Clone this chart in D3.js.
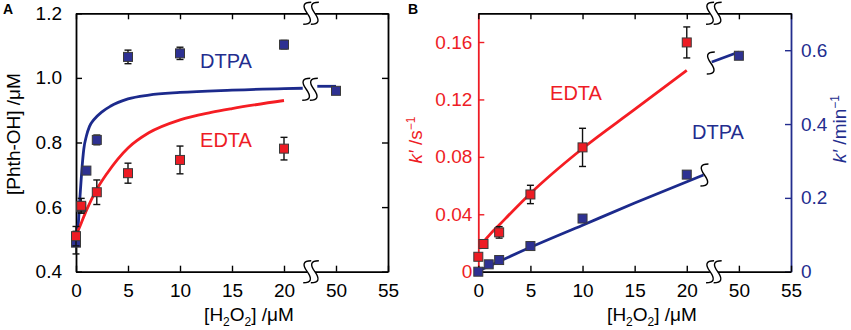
<!DOCTYPE html>
<html><head><meta charset="utf-8">
<script src="https://cdn.jsdelivr.net/npm/d3@7"></script>
<style>
html,body{margin:0;padding:0;background:#fff;}
svg{display:block;font-family:"Liberation Sans",Arial,sans-serif;}
</style></head>
<body><svg id="c" width="851" height="330"></svg>
<script>
// ---------- DATA ----------
const xTickValues = [0, 5, 10, 15, 20, 50, 55];
// Panel A: [Phth-OH] vs [H2O2]
const aDtpaX   = [0, 0.5, 1, 2, 5, 10, 20, 50];
const aDtpaY   = [0.49, 0.60, 0.713, 0.808, 1.065, 1.076, 1.103, 0.96];
const aDtpaErr = [0.035, 0.015, 0.008, 0.015, 0.021, 0.019, 0.013, 0.006];
const aEdtaX   = [0, 0.5, 2, 5, 10, 20];
const aEdtaY   = [0.51, 0.604, 0.646, 0.705, 0.746, 0.781];
const aEdtaErr = [0.03, 0.023, 0.038, 0.031, 0.043, 0.035];
const aDtpaFitX  = [0, 0.2, 0.4, 0.55, 0.75, 1, 1.3, 1.7, 2.5, 3.3, 5, 7, 10, 15, 20, 21.8];
const aDtpaFitY  = [0.50, 0.54, 0.64, 0.71, 0.78, 0.82, 0.85, 0.87, 0.895, 0.912, 0.935, 0.947, 0.955, 0.962, 0.967, 0.968];
const aDtpaFit2X = [48.2, 50];
const aDtpaFit2Y = [0.974, 0.974];
const aEdtaFitX  = [0.05, 0.5, 1, 2, 3, 4, 5, 7, 10, 13, 15, 20];
const aEdtaFitY  = [0.515, 0.55, 0.59, 0.655, 0.705, 0.748, 0.783, 0.83, 0.87, 0.893, 0.905, 0.93];
const aYTicks = [0.4, 0.6, 0.8, 1.0, 1.2];
// Panel B: k' vs [H2O2]
const bEdtaX   = [0, 0.5, 2, 5, 10, 20];
const bEdtaY   = [0.0104, 0.0193, 0.0274, 0.0538, 0.0866, 0.1597];
const bEdtaErr = [0.001, 0.002, 0.004, 0.0064, 0.0133, 0.0108];
const bDtpaX   = [0, 1, 2, 5, 10, 20, 50];
const bDtpaY   = [0.0, 0.02, 0.0316, 0.0695, 0.144, 0.263, 0.585];
const bEdtaFitX  = [0.15, 0.5, 1, 2, 5, 10, 15, 20];
const bEdtaFitY  = [0.016, 0.0205, 0.025, 0.0325, 0.0545, 0.0858, 0.113, 0.1403];
const bDtpaFitX  = [0, 5, 10, 15, 21.6];
const bDtpaFitY  = [0.002, 0.066, 0.126, 0.186, 0.262];
const bDtpaFit2X = [47.4, 50];
const bDtpaFit2Y = [0.568, 0.595];
const bLeftTicks  = [0, 0.04, 0.08, 0.12, 0.16];
const bRightTicks = [0, 0.2, 0.4, 0.6];

// ---------- STYLE ----------
const RED = "#ee1c25", BLUE = "#232d8e", LRED = "#f51d23", LBLUE = "#1c2a8c";
const FS = 19;
const svg = d3.select("#c");
// broken axis: values above the break are shifted down by 25
const brk = v => v > 30 ? v - 25 : v;
const BREAK = 22.6;

function sPath(cx, cy, h, w) {
  return `M${cx + w/2},${cy - h/2} Q${cx - w},${cy - h/2} ${cx},${cy} Q${cx + w},${cy + h/2} ${cx - w/2},${cy + h/2}`;
}
function doubleBreak(g, cx, cy) {
  g.append("rect").attr("x", cx - 4).attr("y", cy - 2).attr("width", 8).attr("height", 4).attr("fill", "#fff");
  [-3.8, 3.8].forEach(o => g.append("path").attr("d", sPath(cx + o, cy, 22, 8))
    .attr("fill", "none").attr("stroke", "#000").attr("stroke-width", 1.4));
}
function singleBreak(g, cx, cy) {
  g.append("path").attr("d", sPath(cx, cy, 22, 8))
    .attr("fill", "none").attr("stroke", "#000").attr("stroke-width", 1.4);
}

function panel(x0, x1, yT, yB) {
  const x = d3.scaleLinear().domain([0, 30]).range([x0, x1]);
  return { x, yT, yB };
}

function xAxes(g, x, yT, yB) {
  const bottom = d3.axisBottom(x).tickValues(xTickValues.map(brk))
    .tickFormat((d, i) => xTickValues[i]).tickSizeInner(-6).tickSizeOuter(0).tickPadding(12);
  const ga = g.append("g").attr("transform", `translate(0,${yB})`).call(bottom);
  ga.select(".domain").attr("stroke-width", 1.8);
  ga.selectAll(".tick line").attr("stroke-width", 1.4);
  ga.selectAll("text").attr("font-size", FS).attr("fill", "#000").attr("font-family", "Liberation Sans, Arial");
  const top = d3.axisTop(x).tickValues(xTickValues.map(brk)).tickFormat("")
    .tickSizeInner(-6).tickSizeOuter(0);
  const gt = g.append("g").attr("transform", `translate(0,${yT})`).call(top);
  gt.select(".domain").attr("stroke-width", 1.8);
  gt.selectAll(".tick line").attr("stroke-width", 1.4);
  doubleBreak(g, x(BREAK), yB);
  doubleBreak(g, x(BREAK), yT);
}

function markers(g, xs, ys, errs, x, y, fill) {
  if (errs) {
    xs.forEach((d, i) => {
      if (!errs[i]) return;
      const cx = x(brk(d)), a = y(ys[i] + errs[i]), b = y(ys[i] - errs[i]);
      g.append("line").attr("x1", cx).attr("x2", cx).attr("y1", a).attr("y2", b).attr("stroke", "#111").attr("stroke-width", 1.4);
      [a, b].forEach(v => g.append("line").attr("x1", cx - 3.5).attr("x2", cx + 3.5).attr("y1", v).attr("y2", v).attr("stroke", "#111").attr("stroke-width", 1.4));
    });
  }
  xs.forEach((d, i) => {
    g.append("rect").attr("x", x(brk(d)) - 4.5).attr("y", y(ys[i]) - 4.5).attr("width", 9).attr("height", 9)
      .attr("fill", fill).attr("stroke", "#3a3a3a").attr("stroke-width", 1);
  });
}

function curve(g, xs, ys, x, y, color) {
  const line = d3.line().x(d => x(brk(d[0]))).y(d => y(d[1])).curve(d3.curveMonotoneX);
  g.append("path").attr("d", line(xs.map((d, i) => [d, ys[i]])))
    .attr("fill", "none").attr("stroke", color).attr("stroke-width", 2.8).attr("stroke-linecap", "butt");
}

// ================= PANEL A =================
{
  const g = svg.append("g");
  const { x, yT, yB } = panel(76, 388, 13.3, 271.7);
  const y = d3.scaleLinear().domain([0.4, 1.2]).range([yB, yT]);
  const left = d3.axisLeft(y).tickValues(aYTicks).tickFormat(d3.format(".1f")).tickSizeInner(-6).tickSizeOuter(0).tickPadding(14);
  const gl = g.append("g").attr("transform", `translate(${x(0)},0)`).call(left);
  gl.select(".domain").attr("stroke-width", 1.8);
  gl.selectAll(".tick line").attr("stroke-width", 1.4);
  gl.selectAll("text").attr("font-size", FS).attr("fill", "#000");
  const right = d3.axisRight(y).tickValues(aYTicks).tickFormat("").tickSizeInner(-6).tickSizeOuter(0);
  const gr = g.append("g").attr("transform", `translate(${x(30)},0)`).call(right);
  gr.select(".domain").attr("stroke-width", 1.8);
  gr.selectAll(".tick line").attr("stroke-width", 1.4);
  xAxes(g, x, yT, yB);

  curve(g, aDtpaFitX, aDtpaFitY, x, y, LBLUE);
  curve(g, aDtpaFit2X, aDtpaFit2Y, x, y, LBLUE);
  curve(g, aEdtaFitX, aEdtaFitY, x, y, LRED);
  // break on the DTPA fit
  const by = y(aDtpaFitY[aDtpaFitY.length - 1]) + 1;
  [-3.8, 3.8].forEach(o => singleBreak(g, x(BREAK) + o - 1, by));

  markers(g, aDtpaX, aDtpaY, aDtpaErr, x, y, "#2e3192");
  markers(g, aEdtaX, aEdtaY, aEdtaErr, x, y, "#ed1c24");

  g.append("text").attr("x", 226).attr("y", 68).attr("text-anchor", "middle").attr("font-size", 20).attr("fill", BLUE).text("DTPA");
  g.append("text").attr("x", 226).attr("y", 147).attr("text-anchor", "middle").attr("font-size", 20).attr("fill", RED).text("EDTA");

  const xt = g.append("text").attr("x", 249).attr("y", 321).attr("text-anchor", "middle").attr("font-size", FS).attr("fill", "#000");
  xt.append("tspan").text("[H");
  xt.append("tspan").attr("font-size", 12).attr("dy", 5).text("2");
  xt.append("tspan").attr("dy", -5).text("O");
  xt.append("tspan").attr("font-size", 12).attr("dy", 5).text("2");
  xt.append("tspan").attr("dy", -5).text("] /μM");

  g.append("text").attr("transform", "translate(19.5,134) rotate(-90)").attr("text-anchor", "middle")
    .attr("font-size", FS).attr("fill", "#000").text("[Phth-OH] /μM");
  g.append("text").attr("x", 3).attr("y", 14).attr("font-size", 14).attr("font-weight", "bold").text("A");
}

// ================= PANEL B =================
{
  const g = svg.append("g");
  const { x, yT, yB } = panel(478.3, 791, 13.3, 271.7);
  const yl = d3.scaleLinear().domain([0, 0.18]).range([yB, yT]);
  const yr = d3.scaleLinear().domain([0, 0.7]).range([yB, yT]);
  const left = d3.axisLeft(yl).tickValues(bLeftTicks).tickFormat(d => d === 0 ? "0" : d3.format(".2f")(d))
    .tickSizeInner(-6).tickSizeOuter(0).tickPadding(6);
  const gl = g.append("g").attr("transform", `translate(${x(0)},0)`).call(left);
  gl.select(".domain").attr("stroke", RED).attr("stroke-width", 1.8);
  gl.selectAll(".tick line").attr("stroke", RED).attr("stroke-width", 1.4);
  gl.selectAll("text").attr("font-size", FS).attr("fill", RED);
  const right = d3.axisRight(yr).tickValues(bRightTicks).tickFormat(d => d === 0 ? "0" : d3.format(".1f")(d))
    .tickSizeInner(-6).tickSizeOuter(0).tickPadding(10);
  const gr = g.append("g").attr("transform", `translate(${x(30)},0)`).call(right);
  gr.select(".domain").attr("stroke", BLUE).attr("stroke-width", 1.8);
  gr.selectAll(".tick line").attr("stroke", BLUE).attr("stroke-width", 1.4);
  gr.selectAll("text").attr("font-size", FS).attr("fill", BLUE);
  xAxes(g, x, yT, yB);

  curve(g, bEdtaFitX, bEdtaFitY, x, yl, LRED);
  curve(g, bDtpaFitX, bDtpaFitY, x, yr, LBLUE);
  curve(g, bDtpaFit2X, bDtpaFit2Y, x, yr, LBLUE);
  singleBreak(g, x(brk(bDtpaFitX[bDtpaFitX.length - 1])) + 1, yr(bDtpaFitY[bDtpaFitY.length - 1]));
  singleBreak(g, x(brk(bDtpaFit2X[0])) - 1, yr(bDtpaFit2Y[0]) + 1);

  markers(g, bDtpaX, bDtpaY, null, x, yr, "#2e3192");
  markers(g, bEdtaX, bEdtaY, bEdtaErr, x, yl, "#ed1c24");

  g.append("text").attr("x", 576).attr("y", 100).attr("text-anchor", "middle").attr("font-size", 20).attr("fill", RED).text("EDTA");
  g.append("text").attr("x", 718).attr("y", 139).attr("text-anchor", "middle").attr("font-size", 20).attr("fill", BLUE).text("DTPA");

  const xt = g.append("text").attr("x", 652).attr("y", 321).attr("text-anchor", "middle").attr("font-size", FS).attr("fill", "#000");
  xt.append("tspan").text("[H");
  xt.append("tspan").attr("font-size", 12).attr("dy", 5).text("2");
  xt.append("tspan").attr("dy", -5).text("O");
  xt.append("tspan").attr("font-size", 12).attr("dy", 5).text("2");
  xt.append("tspan").attr("dy", -5).text("] /μM");

  const lt = g.append("text").attr("transform", "translate(422,140) rotate(-90)").attr("text-anchor", "middle")
    .attr("font-size", FS).attr("fill", RED);
  lt.append("tspan").attr("font-style", "italic").text("k′");
  lt.append("tspan").text(" /s");
  lt.append("tspan").attr("font-size", 12).attr("dy", -7).text("−1");

  const rt = g.append("text").attr("transform", "translate(846,129) rotate(-90)").attr("text-anchor", "middle")
    .attr("font-size", FS).attr("fill", BLUE);
  rt.append("tspan").attr("font-style", "italic").text("k′");
  rt.append("tspan").text(" /min");
  rt.append("tspan").attr("font-size", 12).attr("dy", -7).text("−1");

  g.append("text").attr("x", 408).attr("y", 14).attr("font-size", 14).attr("font-weight", "bold").text("B");
}
</script></body></html>
